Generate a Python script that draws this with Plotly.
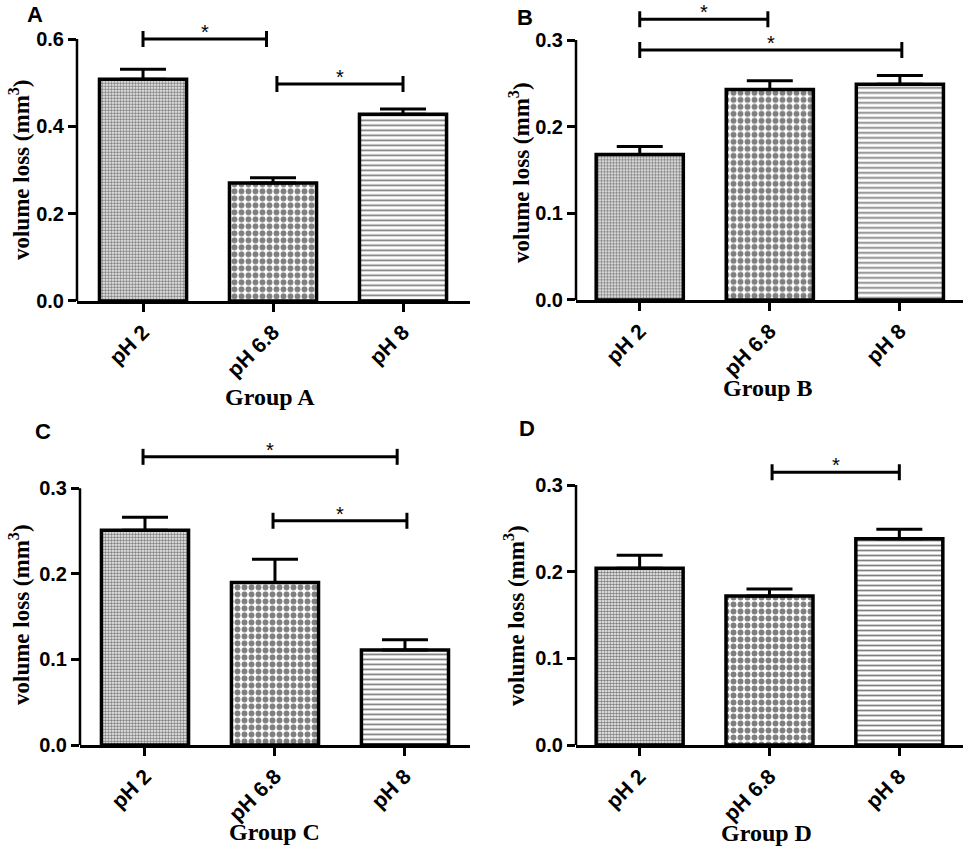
import plotly.graph_objects as go

# pH conditions on the x axis
ph_labels = ["pH 2", "pH 6.8", "pH 8"]
group_names = ["Group A", "Group B", "Group C", "Group D"]
panel_letters = ["A", "B", "C", "D"]

# mean volume loss (mm^3) and SEM for each group
loss_a = [0.508, 0.270, 0.428]
sem_a = [0.023, 0.012, 0.012]
loss_b = [0.168, 0.243, 0.249]
sem_b = [0.009, 0.010, 0.010]
loss_c = [0.251, 0.190, 0.111]
sem_c = [0.015, 0.027, 0.012]
loss_d = [0.204, 0.172, 0.238]
sem_d = [0.015, 0.008, 0.011]

# y tick values per panel
ticks_a = [0.0, 0.2, 0.4, 0.6]
ticks_bcd = [0.0, 0.1, 0.2, 0.3]

# significance brackets: (from category, to category, level)
sig_a = [(0, 0.95, 0.600), (1.03, 2.0, 0.497)]
sig_b = [(0, 0.985, 0.324), (0, 2.015, 0.2885)]
sig_c = [(-0.015, 1.94, 0.3367), (0.985, 2.015, 0.262)]
sig_d = [(1.02, 2.0, 0.3147)]

SANS = "Liberation Sans, Arial, sans-serif"
SERIF = "Liberation Serif, Times New Roman, serif"

patterns = [
    dict(shape=".", size=3, solidity=0.6),
    dict(shape=".", size=7, solidity=0.55),
    dict(shape="-", size=5, solidity=0.35),
]

panels = [
    dict(loss=loss_a, sem=sem_a, ticks=ticks_a, sig=sig_a, top=0.66,
         xdom=[0.0792, 0.4835], ydom=[0.6459, 0.9849], xr=[-0.508, 2.515],
         ytitle=(0.0206, 0.800), gtitle=(0.2778, 0.533), letter=(0.036, 0.9824)),
    dict(loss=loss_b, sem=sem_b, ticks=ticks_bcd, sig=sig_b, top=0.34,
         xdom=[0.5926, 0.9907], ydom=[0.6471, 0.9937], xr=[-0.49, 2.485],
         ytitle=(0.535, 0.7965), gtitle=(0.790, 0.5435), letter=(0.540, 0.980)),
    dict(loss=loss_c, sem=sem_c, ticks=ticks_bcd, sig=sig_c, top=0.36,
         xdom=[0.0823, 0.4835], ydom=[0.1235, 0.4860], xr=[-0.5, 2.5],
         ytitle=(0.0206, 0.2765), gtitle=(0.2829, 0.0215), letter=(0.0442, 0.4918)),
    dict(loss=loss_d, sem=sem_d, ticks=ticks_bcd, sig=sig_d, top=0.36,
         xdom=[0.5926, 0.9907], ydom=[0.1235, 0.4906], xr=[-0.49, 2.49],
         ytitle=(0.5298, 0.2765), gtitle=(0.789, 0.020), letter=(0.542, 0.4953)),
]

fig = go.Figure()
shapes = []
annotations = []

for i, p in enumerate(panels):
    n = "" if i == 0 else str(i + 1)
    xa, ya = "x" + n, "y" + n

    for j, ph in enumerate(ph_labels):
        fig.add_trace(go.Bar(
            x=[ph],
            y=[p["loss"][j]],
            width=0.67,
            xaxis=xa, yaxis=ya,
            marker=dict(color="white", line=dict(color="black", width=3.5),
                        pattern=dict(fgcolor="black", bgcolor="white",
                                     fillmode="overlay", **patterns[j])),
            error_y=dict(type="data", array=[p["sem"][j]], arrayminus=[0],
                         symmetric=False, color="black", thickness=3, width=23),
            showlegend=False,
        ))

    fig.update_layout({
        "xaxis" + n: dict(
            domain=p["xdom"], anchor=ya, range=p["xr"], type="category",
            automargin=False,
            showline=True, linecolor="black", linewidth=2.5,
            ticks="outside", ticklen=8, tickwidth=2.5, tickcolor="black",
            tickangle=-45, showgrid=False, zeroline=False,
            tickfont=dict(family=SANS, size=21, color="black", weight="bold"),
        ),
        "yaxis" + n: dict(
            domain=p["ydom"], anchor=xa, range=[0, p["top"]],
            automargin=False,
            tickmode="array", tickvals=p["ticks"], tickformat=".1f",
            showline=False, ticks="outside", ticklen=8, tickwidth=2.5,
            tickcolor="black", showgrid=False, zeroline=False,
            tickfont=dict(family=SANS, size=20, color="black", weight="bold"),
        ),
    })

    # y axis line only up to the last tick
    shapes.append(dict(type="line", xref=xa + " domain", yref=ya,
                       x0=0, x1=0, y0=0, y1=p["ticks"][-1],
                       line=dict(color="black", width=2.5)))

    for x0, x1, lvl in p["sig"]:
        shapes.append(dict(type="line", xref=xa, yref=ya, x0=x0, x1=x1,
                           y0=lvl, y1=lvl, line=dict(color="black", width=3)))
        for xe in (x0, x1):
            shapes.append(dict(type="line", xref=xa, yref=ya, ysizemode="pixel",
                               yanchor=lvl, y0=-8, y1=8, x0=xe, x1=xe,
                               line=dict(color="black", width=3)))
        annotations.append(dict(xref=xa, yref=ya, x=(x0 + x1) / 2, y=lvl,
                                text="*", showarrow=False, yanchor="bottom",
                                yshift=-6, font=dict(family=SANS, size=20, color="black")))

    tx, ty = p["ytitle"]
    annotations.append(dict(xref="paper", yref="paper", x=tx, y=ty,
                            text="volume loss (mm<sup>3</sup>)", textangle=-90,
                            showarrow=False, xanchor="center", yanchor="middle",
                            font=dict(family=SERIF, size=23, color="black", weight="bold")))
    gx, gy = p["gtitle"]
    annotations.append(dict(xref="paper", yref="paper", x=gx, y=gy,
                            text=group_names[i], showarrow=False,
                            xanchor="center", yanchor="middle",
                            font=dict(family=SERIF, size=24, color="black", weight="bold")))
    lx, ly = p["letter"]
    annotations.append(dict(xref="paper", yref="paper", x=lx, y=ly,
                            text=panel_letters[i], showarrow=False,
                            xanchor="center", yanchor="middle",
                            font=dict(family=SANS, size=22, color="black", weight="bold")))

fig.update_layout(
    width=972, height=850,
    margin=dict(l=0, r=0, t=0, b=0),
    paper_bgcolor="white", plot_bgcolor="white",
    shapes=shapes, annotations=annotations,
    bargap=0.33,
)

# drop the default page margin so the figure sits at the window corner
fig.write_html("out.html", config={"displayModeBar": False},
               post_script="document.body.style.margin = '0';")
